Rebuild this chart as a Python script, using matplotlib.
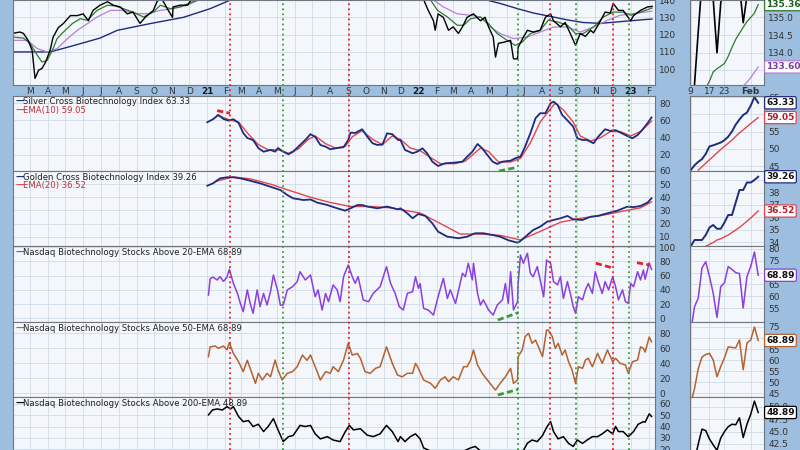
import numpy as np
import matplotlib
matplotlib.use("Agg")
import matplotlib.pyplot as plt
import matplotlib.transforms as mtransforms

BASE = np.datetime64("2020-01-01")

# ---------------- main price panel (Nasdaq Biotechnology) ----------------
price_day = [31,43,49,57,64,69,75,81,87,95,100,109,118,130,142,152,161,169,181,194,204,216,228,238,250,259,273,280,288,297,306,307,319,332,340,406,526,630,699,738,747,756,759,764,773,782,790,799,806,814,825,837,845,851,859,863,868,876,889,894,901,902,911,918,928,940,949,958,963,975,983,992,1001,1009,1018,1027,1032,1044,1052,1061,1066,1075,1083,1096,1101,1113,1125,1133]
price_val = [120.8,121.5,120.7,116.7,111,94.7,99.4,100.5,104,111,118.4,124,126.5,131,131,132,128,134,137,139,137,136,132,133,126.5,130,134,139.5,140.5,135,130,136,137,137,141,150,160,158,150,141,134,128,122.5,132,130,122.5,124.5,120.7,124.5,130,132,128,130,124.5,118.6,107,115,115.5,116.7,106,106,112.7,118.5,122.5,121.5,122.5,130,132,128,124.5,127,120.6,113.8,120.6,119,122.5,121,128,133,132.5,138,134,134,128,131,134,136,136.3]

ma20_day = [31,49,61,73,81,90,99,107,118,133,147,159,176,194,207,221,238,256,273,285,302,319,340,349,440,578,699,751,763,780,797,808,820,837,851,866,883,897,909,923,940,954,970,987,1001,1014,1032,1049,1066,1083,1096,1113,1133]
ma20_val = [118.6,118,114.8,108,104.2,105.1,111,117.7,121.5,126.3,129.2,128.3,134,137,136.6,135,133,130.2,133,137,135,136,138.8,139.8,150,158,150,140,134,130.2,125.4,125.4,129.2,130.2,126.3,120.6,116.7,113.8,115.7,120.6,122.5,128.3,127.3,125.4,120.6,120.6,124.4,130.2,133,133,131.2,133,135.36]

ma50_day = [31,56,73,90,107,125,142,159,176,199,221,245,263,285,307,332,349,457,613,733,756,773,797,820,837,854,871,894,918,940,963,987,1009,1032,1056,1078,1101,1133]
ma50_val = [116.7,116.7,111.9,110,111.9,117.7,122.5,126.3,130.2,134,134,132.1,132.1,134,135,137,139.8,148,155,148,140,136,132,131.2,130.2,124.4,120.6,117.7,118.6,121.5,124.4,124.4,121.5,124.4,128.3,131.2,132.1,133.6]

ma200_day = [31,95,125,181,211,268,325,371,406,526,699,842,871,901,928,958,987,1014,1044,1078,1113,1133]
ma200_val = [110,110,112.7,118,122.5,126.4,130,135,140,146,148,140.5,138,135,132.5,130.5,128.5,127,126.5,127.5,128.5,129]

# ---------------- indicator panels ----------------
silver_day = [366,376,385,394,402,411,420,428,435,445,454,463,475,483,488,497,506,514,526,535,544,552,561,570,578,590,601,609,613,621,633,642,651,659,668,676,685,695,699,707,720,728,737,745,754,764,776,790,806,814,823,832,840,849,858,866,875,889,897,906,914,923,932,940,949,958,963,970,978,989,997,1004,1013,1021,1032,1040,1052,1061,1070,1078,1090,1099,1108,1116,1125,1132]
silver_val = [57.8,61.3,66.2,61.6,59.7,61.3,57,45.4,39.6,37.3,28,23.8,25.8,23.8,28,23.8,20.8,23.8,31.6,37.3,44,41,31.6,29.6,26.6,28,29,37.3,45.8,45.4,49.7,41,33.5,31.6,32,45,44,37.3,37.3,25.8,22,23.8,27.7,22,12.3,7.3,10.4,11,12.3,18,23.8,32.7,27.7,20,12.3,9.6,12.3,13.4,16.2,18,29.6,45,62.4,68.2,68.2,79.8,81.6,77.8,66.2,58.5,52.7,39.3,37.3,37.3,33.5,41,49.7,47.8,48.7,46,42,39.3,43,48.9,56.6,63.33]
silver_ema_day = [383,402,420,437,454,471,488,506,523,540,552,570,587,604,616,633,651,668,685,699,716,733,751,768,794,811,837,851,868,889,906,923,940,954,966,980,997,1009,1027,1044,1061,1078,1096,1113,1132]
silver_ema_val = [66,61,58,44,32,26,26,22,27,38,42,33,28,30,41,48,38,32,42,38,28,25,17,10,10,13,28,24,12,12,16,34,58,70,80,72,58,42,36,40,47,47,42,47,59.05]

golden_day = [366,376,388,400,411,423,440,457,475,492,504,514,532,544,556,573,590,604,613,625,633,642,659,676,695,699,711,720,730,742,754,764,780,799,814,828,842,858,871,885,901,906,918,928,940,952,963,975,987,997,1013,1027,1039,1056,1073,1090,1101,1113,1125,1132]
golden_val = [48.8,50.6,54.4,55.2,55.2,54.4,52.6,50.6,48,45.5,41.7,39.2,37.9,38.3,35.9,34.1,31.6,29.8,31.6,34.1,34.1,32.9,31.6,32.9,30.8,31.6,27.8,24,27.3,25.8,20.2,13.8,10,8.8,10,12.6,12.6,11.3,10,7.3,5.4,6.7,11.3,15.1,17.6,21.4,22.7,24,25.8,23.2,22.7,25.2,25.8,27.8,29.8,32.8,32.5,33.4,35.9,39.26]
golden_ema_day = [380,411,440,475,509,544,578,613,647,681,707,733,768,802,837,871,906,940,975,1009,1044,1078,1113,1132]
golden_ema_val = [52,55.5,54,50,45,40,36,33,33,32,30,28,20,12,12,11,7.5,14,21,24,26,29,32,36.52]

a20_day = [368,371,376,383,388,394,400,404,411,418,423,428,435,440,445,452,457,463,469,475,480,487,492,497,504,513,521,526,535,544,552,557,564,570,575,583,590,595,601,609,616,621,626,635,644,652,664,675,682,690,697,704,711,720,725,730,733,739,747,756,764,773,780,785,794,806,811,816,823,825,832,837,842,851,859,866,875,880,885,889,894,901,902,906,911,918,923,928,935,940,946,951,958,963,970,975,980,987,992,997,1001,1006,1013,1018,1023,1030,1035,1040,1047,1052,1058,1065,1070,1075,1082,1087,1092,1096,1101,1108,1113,1118,1121,1128,1132]
a20_val = [32.8,56,58,54,58.6,52,58,69,49.3,35.2,21,9.3,39.9,21,7,40,16.4,35,18.7,37.5,61,40,18.7,18.7,40,44.5,51.6,65.6,54,61,30.4,40,11.7,35,23.4,46.9,40,23.4,58.6,75,58.6,49.3,58.6,25.8,23.4,35,44.5,72.7,49.3,35,16.4,11.7,35.2,37.5,58.6,42.2,49,14,11.7,4.6,30.4,56.3,28,40,21,63.4,58.6,77.5,54,77.5,35,18.7,26,11.7,4.6,18.7,26,49,21,65.6,11.7,23.4,49,89,77.5,91.5,63.4,58.6,72.8,54,30.4,82,77.5,51.6,47,58.6,28,51.6,35,16.4,7,30.4,26,40,49,35,65.6,51.6,35,51.6,40,58.6,44.5,26,40,23.4,21,49,44.5,65.6,54,68,55,78,68.89]

a50_day = [368,371,380,385,394,400,404,411,420,428,435,443,449,454,461,469,475,483,488,495,504,513,521,530,538,544,552,561,570,578,583,592,601,609,616,625,630,638,647,656,664,675,685,694,702,711,720,725,730,739,751,759,768,776,782,790,799,808,814,820,825,832,840,849,858,863,871,880,889,894,901,902,909,914,920,926,932,937,944,951,954,961,966,971,978,983,989,995,1001,1006,1013,1018,1023,1030,1039,1047,1056,1065,1070,1078,1087,1092,1099,1108,1113,1118,1121,1128,1132]
a50_val = [48.9,62,63,60,63,58,67.5,53.3,42,28.9,44,26.7,13.3,26.7,17.8,26.7,22,44.4,31,17.8,26.7,28.9,35.5,51,44,51,35.5,17.8,28.9,26.7,35.5,28.9,44.4,66.7,51,53,46.7,28.9,26.7,33.3,35.5,62,40,24.4,22,26.7,26.7,40,33.3,17.8,13.3,6.7,17.8,22,15.6,22,17.8,35.5,35.5,44.4,57.8,37.8,26.7,17.8,8.9,4.4,13.3,22,33.3,13.3,17.8,48.9,57.8,75.5,80,66.7,71,62,48.9,84.4,84.4,75.5,60,66.7,51,57.8,42,31,13.3,35.5,33.3,44.4,46.7,35.5,53.3,40,57.8,42,46.7,40,37.8,26.7,42,44.4,62,60,55,75,68.89]

a200_day = [368,375,383,392,400,406,411,420,428,437,445,454,463,471,480,488,497,506,514,526,535,544,552,561,573,583,595,604,611,618,630,642,652,664,675,685,695,699,707,716,725,733,739,756,776,799,820,828,840,863,889,906,918,926,935,944,952,958,963,971,980,989,997,1004,1013,1021,1030,1039,1047,1056,1065,1070,1075,1083,1092,1101,1109,1118,1121,1128,1132]
a200_val = [50.3,54.7,55.6,54.7,57.6,55.6,57.6,48.8,44.3,45.3,40,42,35.5,40,47,37,26.6,31,32,41,40,41,33.5,29,31,28,26.6,35.5,41,37,38,32.3,31,33.5,41,35.5,26.6,31,26.6,31,33.5,29,21,17,14,16,21,22.3,17,12,10,14,25.2,28,26.6,32,40,44.3,35.5,29,31,25,22.3,28,25,28,31,31,33.5,37,33.5,40,35.5,35.5,31,35.5,42,44.3,43.8,51.2,48.89]

red_events = ["2021-02-09", "2021-09-02", "2022-08-15", "2022-12-02"]
green_events = ["2021-05-12", "2022-06-21", "2022-09-29", "2022-12-30"]

# annotation trend segments: (panel, color, [date0, date1], [v0, v1])
trend_marks = [
    (1, "red",   ["2021-01-18", "2021-02-09"], [71.2, 68.2]),
    (1, "green", ["2022-05-19", "2022-06-20"], [1.5, 5.8]),
    (3, "green", ["2022-05-17", "2022-06-21"], [-2.4, 7.9]),
    (3, "red",   ["2022-11-02", "2022-12-03"], [77.5, 70.4]),
    (3, "red",   ["2023-01-12", "2023-02-03"], [78.3, 75.0]),
    (4, "green", ["2022-05-17", "2022-06-21"], [-2.2, 5.3]),
]

# ---------------- zoomed (last month) panels, trading-day index ----------------
mini_tick_idx = [1, 6, 10, 17]
mini_tick_lbl = ["9", "17", "23", "Feb"]
mini_price_idx = list(range(1, 20))
mini_price = [132.5,133.1,134.6,136.0,136.2,135.9,135.5,134.0,135.4,136.0,136.2,136.4,136.3,135.9,134.85,135.6,136.2,136.5,136.3]
mini_ma20_idx = list(range(5, 20))
mini_ma20 = [133.0,133.2,133.46,133.55,133.62,133.7,133.9,134.15,134.38,134.55,134.72,134.88,135.0,135.12,135.36]
mini_ma50_idx = list(range(15, 20))
mini_ma50 = [133.05,133.17,133.3,133.45,133.6]
mini_silver_idx = list(range(1, 20))
mini_silver = [43.8,45.2,46.2,47,48.5,50.7,51,51.4,51.8,52.5,53.5,55,57,58.5,59.8,60.5,62.5,65,63.33]
mini_silver_ema_idx = list(range(3, 20))
mini_silver_ema = [43.8,44.8,45.8,46.8,47.8,48.8,49.8,50.7,51.6,52.5,53.6,54.6,55.5,56.4,57.3,58.2,59.05]
mini_golden_idx = list(range(1, 20))
mini_golden = [33.7,34.2,34.2,34.2,34.6,35.2,35.4,35.1,35.1,35.6,36.2,36.2,37.2,38.2,38.2,38.8,38.8,39.0,39.26]
mini_golden_ema_idx = list(range(5, 20))
mini_golden_ema = [33.7,33.85,34.0,34.2,34.3,34.45,34.6,34.8,35.0,35.2,35.45,35.7,35.95,36.25,36.52]
mini_a20_idx = list(range(1, 20))
mini_a20 = [45,55.5,59.2,72,74.6,68.3,61.2,51,64,65.7,72.6,71.3,70,69.6,55,68.3,72.6,78.7,68.89]
mini_a50_idx = list(range(1, 20))
mini_a50 = [40,47,56,61.4,62.5,63,60,52.4,57,61,66,65.7,65.5,69.1,55.6,67.7,69.1,75,68.89]
mini_a200_idx = list(range(1, 20))
mini_a200 = [36,39,42.5,45.5,45.2,43.5,42.3,41.2,43.7,45,46,46.5,46.4,47.8,43.8,46.5,48.5,51.2,48.89]

# ---------------- styling ----------------
BG = "#9dbedf"
PBG = "#f3f6fa"
GRID = "#cfdbe8"
NAVY = "#1f2b7e"
RED = "#e2454f"
PURP = "#8a3fe0"
BROWN = "#b4622e"
GREENMA = "#2f7a2f"
PURPMA = "#b77fd8"
DOTRED = "#e3232b"
DOTGREEN = "#3c9a3c"
TXT = "#222222"

plt.rcParams["font.family"] = ["DejaVu Sans"]

def d2dt(days):
    return BASE + np.array(days, dtype="timedelta64[D]")

XMIN = BASE + np.timedelta64(31, "D")
XMAX = np.datetime64("2023-02-12")
month_ticks = np.arange(np.datetime64("2020-02"), np.datetime64("2023-03"), dtype="datetime64[M]")
MONTHS = "JFMAMJJASOND"
month_lbls = []
for m in month_ticks:
    y = int(str(m)[:4]); mm = int(str(m)[5:7])
    if str(m) == "2020-02":
        month_lbls.append("")
    elif mm == 1:
        month_lbls.append(f"{y % 100:02d}")
    else:
        month_lbls.append(MONTHS[mm - 1])
month_ticks_dt = month_ticks.astype("datetime64[D]")

fig = plt.figure(figsize=(8, 4.5), dpi=100, facecolor=BG)
L, W = 13 / 800, 642 / 800
ML, MW = 690 / 800, 74 / 800
rows = [(0, 85), (96, 171), (171, 246), (246, 322), (322, 397), (397, 472)]
main_ylim = [(90.9, 140.0), (1.5, 88.1), (2.9, 60.0), (-5.2, 101.8), (-4.9, 95.1), (-0.4, 66.2)]
main_yt = [[100, 110, 120, 130, 140], [20, 40, 60, 80], [10, 20, 30, 40, 50, 60],
           [0, 20, 40, 60, 80, 100], [0, 20, 40, 60, 80], [20, 30, 40, 50, 60]]
mini_ylim = [(133.09, 135.49), (43.55, 65.3), (33.72, 39.72), (49.07, 81.27), (43.2, 77.27), (36.8, 52.03)]
# tick labels that are not hidden behind the value boxes
mini_yt = [[134.0, 134.5, 135.0], [45, 50, 55, 65], [34, 35, 36, 37, 38],
           [55, 60, 65, 75, 80], [45, 50, 55, 60, 65, 75], [42.5, 45.0, 47.5, 50.0]]
mini_grid = [[133.5, 134.0, 134.5, 135.0], [45, 50, 55, 60, 65], [34, 35, 36, 37, 38, 39],
             [55, 60, 65, 70, 75, 80], [45, 50, 55, 60, 65, 70, 75], [40.0, 42.5, 45.0, 47.5, 50.0]]
mini_fmt = ["{:.1f}", "{:.0f}", "{:.0f}", "{:.0f}", "{:.0f}", "{:.1f}"]

def style(ax):
    ax.set_facecolor(PBG)
    ax.grid(True, color=GRID, lw=0.6)
    ax.set_axisbelow(True)
    for s in ax.spines.values():
        s.set_color("#6f7780"); s.set_linewidth(0.8)
    ax.yaxis.tick_right()
    ax.tick_params(length=0, labelsize=6.5, labelcolor="#333333", pad=3)

main_axes, mini_axes = [], []
for i, (t, b) in enumerate(rows):
    ax = fig.add_axes([L, 1 - b / 450, W, (b - t) / 450])
    style(ax)
    ax.set_xlim(XMIN, XMAX)
    ax.set_ylim(*main_ylim[i])
    ax.set_xticks(month_ticks_dt)
    if i == 0:
        ax.set_xticklabels(month_lbls)
        ax.tick_params(axis="x", pad=1.5, labelsize=6.5)
        for tl, s in zip(ax.get_xticklabels(), month_lbls):
            if s.isdigit():
                tl.set_fontweight("bold"); tl.set_color("#1a1a1a")
    else:
        ax.set_xticklabels([])
    ax.set_yticks(main_yt[i])
    ax.set_yticklabels([f"{v:g}" for v in main_yt[i]])
    main_axes.append(ax)

    mx = fig.add_axes([ML, 1 - b / 450, MW, (b - t) / 450])
    style(mx)
    mx.set_xlim(0.8, 20.55)
    mx.set_ylim(*mini_ylim[i])
    mx.set_xticks(mini_tick_idx)
    if i == 0:
        mx.set_xticklabels(mini_tick_lbl)
        mx.tick_params(axis="x", pad=1.5, labelsize=6.5)
        mx.get_xticklabels()[-1].set_fontweight("bold")
    else:
        mx.set_xticklabels([])
    mx.set_yticks(mini_yt[i])
    mx.set_yticklabels([mini_fmt[i].format(v) for v in mini_yt[i]])
    mx.set_yticks(mini_grid[i], minor=True)
    mx.grid(True, which="minor", axis="y", color=GRID, lw=0.6)
    mx.tick_params(which="minor", length=0)
    mini_axes.append(mx)

a1, a2, a3, a4, a5, a6 = main_axes
a1.plot(d2dt(ma200_day), ma200_val, color=NAVY, lw=1.0)
a1.plot(d2dt(ma50_day), ma50_val, color=PURPMA, lw=0.9)
a1.plot(d2dt(ma20_day), ma20_val, color=GREENMA, lw=0.9)
a1.plot(d2dt(price_day), price_val, color="black", lw=1.0)

a2.plot(d2dt(silver_ema_day), silver_ema_val, color=RED, lw=1.0)
a2.plot(d2dt(silver_day), silver_val, color=NAVY, lw=1.3)
a3.plot(d2dt(golden_ema_day), golden_ema_val, color=RED, lw=1.0)
a3.plot(d2dt(golden_day), golden_val, color=NAVY, lw=1.3)
a4.plot(d2dt(a20_day), a20_val, color=PURP, lw=1.1)
a5.plot(d2dt(a50_day), a50_val, color=BROWN, lw=1.1)
a6.plot(d2dt(a200_day), a200_val, color="black", lw=1.1)

for p, c, dd, vv in trend_marks:
    main_axes[p].plot(np.array(dd, dtype="datetime64[D]"), vv,
                      color=(DOTRED if c == "red" else DOTGREEN), lw=2.0,
                      linestyle=(0, (2.2, 1.2)), zorder=6)

# event lines across all main panels
ov = fig.add_axes([L, 0, W, 1], zorder=20)
ov.set_xlim(XMIN, XMAX); ov.set_ylim(0, 1)
ov.axis("off"); ov.patch.set_alpha(0)
for d in red_events:
    ov.axvline(np.datetime64(d), color=DOTRED, lw=1.3, linestyle=(0, (1, 1.8)))
for d in green_events:
    ov.axvline(np.datetime64(d), color=DOTGREEN, lw=1.3, linestyle=(0, (1, 1.8)))

m1, m2, m3, m4, m5, m6 = mini_axes
m1.plot(mini_ma50_idx, mini_ma50, color=PURPMA, lw=0.9)
m1.plot(mini_ma20_idx, mini_ma20, color=GREENMA, lw=0.9)
m1.plot(mini_price_idx, mini_price, color="black", lw=1.2)
m2.plot(mini_silver_ema_idx, mini_silver_ema, color=RED, lw=1.0)
m2.plot(mini_silver_idx, mini_silver, color=NAVY, lw=1.4)
m3.plot(mini_golden_ema_idx, mini_golden_ema, color=RED, lw=1.0)
m3.plot(mini_golden_idx, mini_golden, color=NAVY, lw=1.4)
m4.plot(mini_a20_idx, mini_a20, color=PURP, lw=1.1)
m5.plot(mini_a50_idx, mini_a50, color=BROWN, lw=1.1)
m6.plot(mini_a200_idx, mini_a200, color="black", lw=1.1)

def vbox(ax, val, ec, tc="#111111"):
    tr = mtransforms.blended_transform_factory(ax.transAxes, ax.transData)
    ax.text(1.03, val, f"{val:.2f}", transform=tr, ha="left", va="center",
            fontsize=6.5, fontweight="bold", color=tc, clip_on=False, zorder=30,
            bbox=dict(boxstyle="round,pad=0.18", fc="white", ec=ec, lw=0.9))

vbox(m1, mini_ma20[-1], GREENMA, "#1f5f1f")
vbox(m1, mini_ma50[-1], PURPMA, "#7a3fa0")
vbox(m2, mini_silver[-1], NAVY)
vbox(m2, mini_silver_ema[-1], RED, "#b02030")
vbox(m3, mini_golden[-1], NAVY)
vbox(m3, mini_golden_ema[-1], RED, "#b02030")
vbox(m4, mini_a20[-1], PURP)
vbox(m5, mini_a50[-1], BROWN)
vbox(m6, mini_a200[-1], "black")

# legends
def legend(ypx, color, text, tcolor=TXT):
    fig.text(15 / 800, 1 - ypx / 450, "\u2014", color=color, fontsize=6.2, fontweight="bold",
             va="center", ha="left", zorder=40)
    fig.text(23 / 800, 1 - ypx / 450, text, color=tcolor, fontsize=6.1,
             va="center", ha="left", zorder=40)

legend(101.5, NAVY, f"Silver Cross Biotechnology Index {silver_val[-1]:.2f}")
legend(110, RED, f"EMA(10) {silver_ema_val[-1]:.2f}", "#c0303a")
legend(177.3, NAVY, f"Golden Cross Biotechnology Index {golden_val[-1]:.2f}")
legend(185.7, RED, f"EMA(20) {golden_ema_val[-1]:.2f}", "#c0303a")
legend(252.7, PURP, f"Nasdaq Biotechnology Stocks Above 20-EMA {a20_val[-1]:.2f}")
legend(328.3, BROWN, f"Nasdaq Biotechnology Stocks Above 50-EMA {a50_val[-1]:.2f}")
legend(403.3, "black", f"Nasdaq Biotechnology Stocks Above 200-EMA {a200_val[-1]:.2f}")

fig.savefig("out.png", dpi=100, facecolor=BG)
